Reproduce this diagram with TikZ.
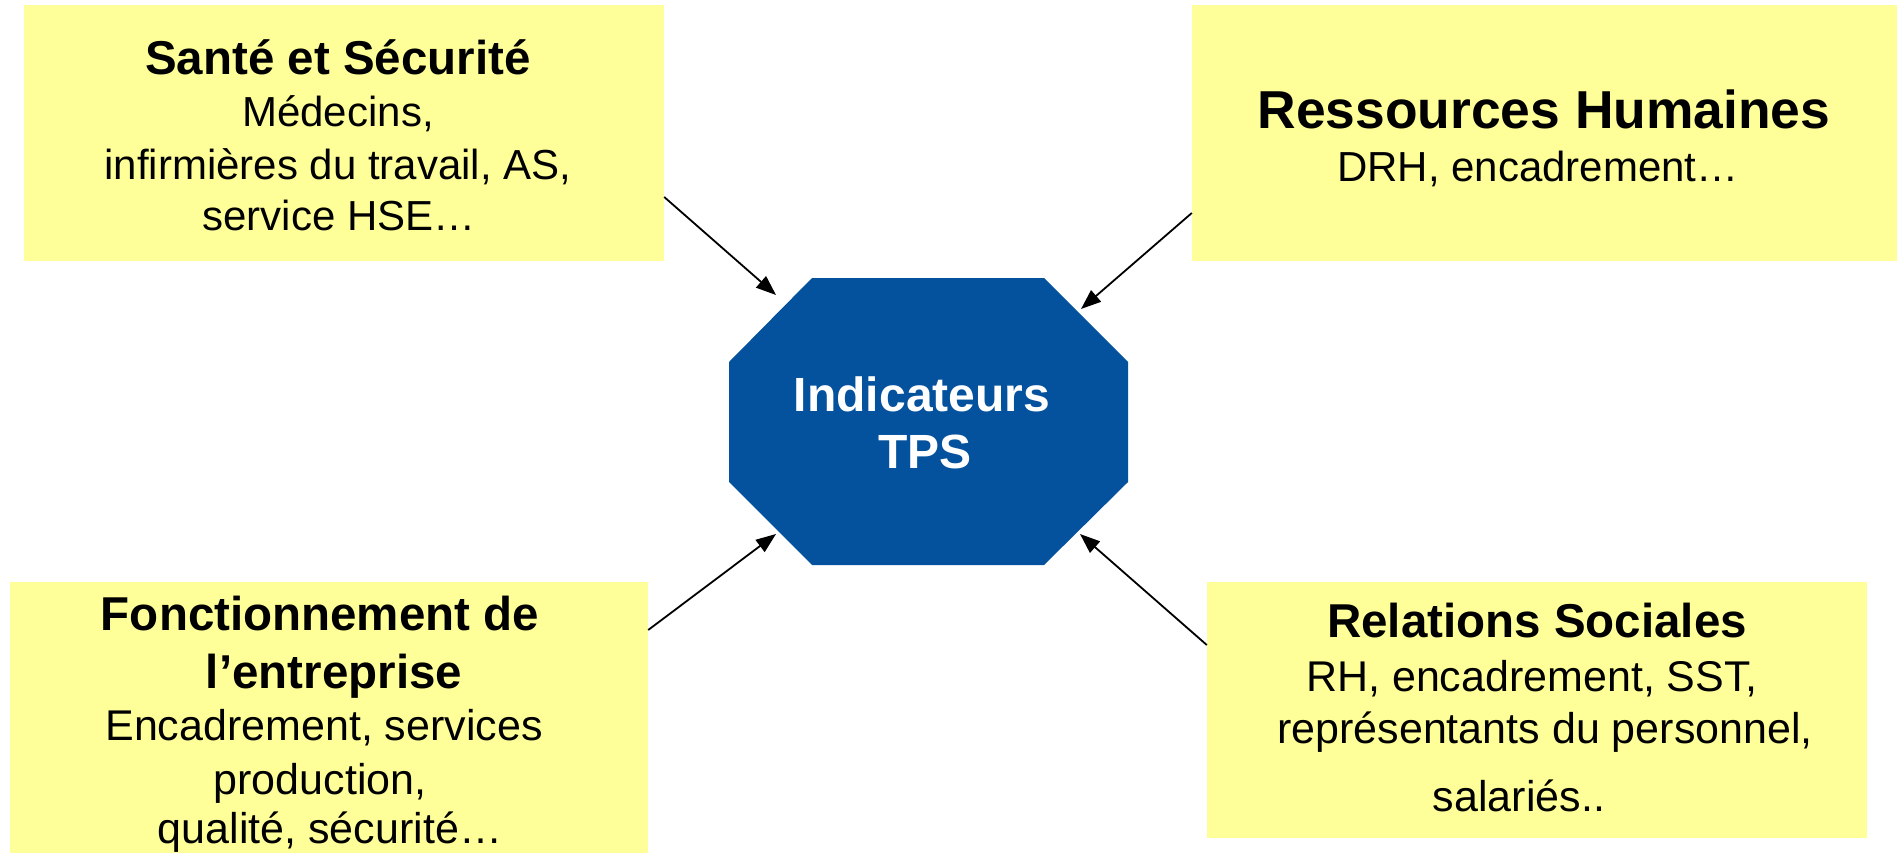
\documentclass[tikz,border=0pt]{standalone}
\usepackage{fontspec}
\setmainfont{Liberation Sans}
\usetikzlibrary{arrows.meta}
\definecolor{boxyellow}{RGB}{255,255,153}
\definecolor{octblue}{RGB}{4,82,158}
\tikzset{
  panel/.style={rectangle, fill=boxyellow, inner sep=0pt, draw=none},
  ttl/.style={anchor=base, inner sep=0pt, font=\fontsize{47.5}{50}\selectfont\bfseries},
  bigttl/.style={anchor=base, inner sep=0pt, font=\fontsize{53.4}{56}\selectfont\bfseries},
  body/.style={anchor=base, inner sep=0pt, font=\fontsize{42}{46}\selectfont},
  bodyl/.style={anchor=base, inner sep=0pt, font=\fontsize{43}{46}\selectfont},
  octtxt/.style={anchor=base, inner sep=0pt, text=white, font=\fontsize{48}{52}\selectfont\bfseries},
  link/.style={line width=1.8pt, -{Triangle[length=20pt,width=15pt]}}
}
\begin{document}
\begin{tikzpicture}[x=1pt,y=-1pt]
\useasboundingbox (0,0) rectangle (1897,853);
% panels
\node[panel, minimum width=640pt, minimum height=256pt] (tl) at (344,133) {};
\node[panel, minimum width=705pt, minimum height=256pt] (tr) at (1544.5,133) {};
\node[panel, minimum width=638pt, minimum height=271pt] (bl) at (329,717.5) {};
\node[panel, minimum width=660pt, minimum height=256pt] (br) at (1537,710) {};
% octagon
\fill[octblue] (812,278) -- (1044,278) -- (1128,362) -- (1128,482) -- (1044,565)
  -- (812,565) -- (729,482) -- (729,362) -- cycle;
\node[octtxt] (o1) at (922,411) {Indicateurs};
\node[octtxt] (o2) at (925,468) {TPS};
% texts top-left
\node[ttl] (t1) at (338,75) {Santé et Sécurité};
\node[body] (t2) at (338,127) {Médecins,};
\node[body] (t3) at (338,180) {infirmières du travail, AS,};
\node[body] (t4) at (339,230) {service HSE…};
% top-right
\node[bigttl] (t5) at (1544,129) {Ressources Humaines};
\node[body] (t6) at (1538,182) {DRH, encadrement…};
% bottom-left
\node[ttl] (t7) at (320,630) {Fonctionnement de};
\node[ttl] (t8) at (334,688) {l’entreprise};
\node[bodyl] (t9) at (324,740) {Encadrement, services};
\node[bodyl] (t10) at (320,794) {production,};
\node[bodyl] (t11) at (330,843) {qualité, sécurité…};
% bottom-right
\node[ttl] (t12) at (1537,637) {Relations Sociales};
\node[bodyl] (t13) at (1532,691) {RH, encadrement, SST,};
\node[bodyl] (t14) at (1545,743) {représentants du personnel,};
\node[bodyl] (t15) at (1519,811) {salariés..};
% arrow ends
\coordinate (e1) at (776,295);
\coordinate (e2) at (1081,309);
\coordinate (e3) at (776,534);
\coordinate (e4) at (1080,534);
\draw[link] ([yshift=-64pt]tl.east) -- (e1);
\draw[link] ([yshift=-80pt]tr.west) -- (e2);
\draw[link] ([yshift=87.5pt]bl.east) -- (e3);
\draw[link] ([yshift=65pt]br.west) -- (e4);
\end{tikzpicture}
\end{document}
